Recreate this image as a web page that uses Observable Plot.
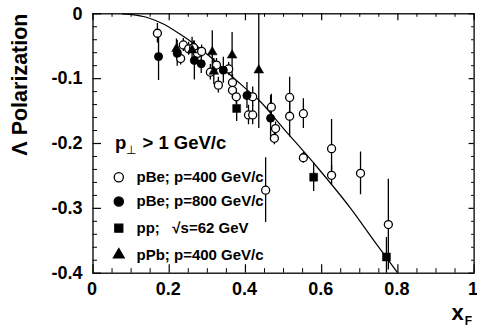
<!DOCTYPE html>
<html>
<head>
<meta charset="utf-8">
<script src="https://cdn.jsdelivr.net/npm/d3@7"></script>
<script src="https://cdn.jsdelivr.net/npm/@observablehq/plot@0.6"></script>
<style>
  body { margin: 0; background: #fff; }
  svg { display: block; }
</style>
</head>
<body>
<div id="chart"></div>
<script>
// ---- data ----
// pBe; p=400 GeV/c (open circles)
const pBe400X   = [0.169, 0.237, 0.230, 0.251, 0.264, 0.274, 0.285, 0.308, 0.324, 0.329, 0.356, 0.366, 0.366, 0.376, 0.408, 0.419, 0.419, 0.453, 0.468, 0.479, 0.476, 0.516, 0.516, 0.552, 0.552, 0.626, 0.626, 0.702, 0.775];
const pBe400Y   = [-0.030, -0.048, -0.069, -0.054, -0.052, -0.061, -0.058, -0.090, -0.079, -0.110, -0.085, -0.106, -0.118, -0.128, -0.156, -0.156, -0.128, -0.272, -0.144, -0.177, -0.192, -0.129, -0.158, -0.154, -0.222, -0.208, -0.249, -0.246, -0.325];
const pBe400Err = [0.015, 0.010, 0.010, 0.010, 0.010, 0.010, 0.010, 0.012, 0.010, 0.012, 0.010, 0.012, 0.012, 0.012, 0.015, 0.015, 0.015, 0.050, 0.020, 0.010, 0.010, 0.031, 0.032, 0.023, 0.008, 0.045, 0.015, 0.033, 0.070];
// pBe; p=800 GeV/c (filled circles)
const pBe800X   = [0.172, 0.221, 0.266, 0.284, 0.342, 0.404, 0.466];
const pBe800Y   = [-0.066, -0.061, -0.072, -0.077, -0.087, -0.126, -0.161];
const pBe800Err = [0.037, 0.020, 0.030, 0.015, 0.020, 0.020, 0.035];
// pp; sqrt(s)=62 GeV (filled squares)
const ppX   = [0.377, 0.579, 0.770];
const ppY   = [-0.146, -0.252, -0.375];
const ppErr = [0.020, 0.022, 0.030];
// pPb; p=400 GeV/c (filled triangles)
const pPbX   = [0.219, 0.260, 0.313, 0.317, 0.365, 0.435];
const pPbY   = [-0.054, -0.056, -0.059, -0.089, -0.064, -0.087];
const pPbErr = [0.015, 0.020, 0.033, 0.020, 0.035, 0.090];
// fit curve
const curveX = [0.077, 0.138, 0.182, 0.225, 0.269, 0.313, 0.356, 0.400, 0.435, 0.500, 0.589, 0.676, 0.740, 0.800];
const curveY = [0, -0.005, -0.015, -0.030, -0.048, -0.069, -0.092, -0.115, -0.133, -0.177, -0.237, -0.300, -0.352, -0.400];
// ticks
const xTicks = [0, 0.2, 0.4, 0.6, 0.8, 1];
const xTickLabels = ["0", "0.2", "0.4", "0.6", "0.8", "1"];
const xMinorTicks = [0.05,0.1,0.15,0.25,0.3,0.35,0.45,0.5,0.55,0.65,0.7,0.75,0.85,0.9,0.95];
const yTicks = [0, -0.1, -0.2, -0.3, -0.4];
const yTickLabels = ["0", "-0.1", "-0.2", "-0.3", "-0.4"];
const yMinorTicks = [-0.02,-0.04,-0.06,-0.08,-0.12,-0.14,-0.16,-0.18,-0.22,-0.24,-0.26,-0.28,-0.32,-0.34,-0.36,-0.38];
// legend
const legendLabels = ["pBe; p=400 GeV/c", "pBe; p=800 GeV/c", "pp;   \u221As=62 GeV", "pPb; p=400 GeV/c"];
const legendHeader = "1 GeV/c";

// ---- build tables ----
const toRows = (X, Y, E) => X.map((x, i) => ({x, y: Y[i], e: E[i]}));
const pBe400 = toRows(pBe400X, pBe400Y, pBe400Err);
const pBe800 = toRows(pBe800X, pBe800Y, pBe800Err);
const pp = toRows(ppX, ppY, ppErr);
const pPb = toRows(pPbX, pPbY, pPbErr);
const curve = curveX.map((x, i) => ({x, y: curveY[i]}));

const W = 477, H = 328;
const mL = 92.5, mR = 3.4, mT = 13.3, mB = 55.3;
const fw = W - mL - mR, fh = H - mT - mB;
const FONT = "'Liberation Sans', Arial, Helvetica, sans-serif";

const errBars = (rows) => Plot.ruleX(rows, {x: "x", y1: d => d.y - d.e, y2: d => d.y + d.e, stroke: "black", strokeWidth: 1.3, clip: true});

const legendSymbols = [
  {symbol: "circle", fill: "white", r: 4.6},
  {symbol: "circle", fill: "black", r: 4.6},
  {symbol: "square", fill: "black", r: 4.5},
  {symbol: "triangle", fill: "black", r: 4.0}
];
const legendDy = [163.4, 187.7, 214.4, 241];

const legendMarks = legendLabels.flatMap((lab, i) => [
  Plot.dot([lab], {frameAnchor: "top-left", dx: 25.8, dy: legendDy[i], symbol: legendSymbols[i].symbol, r: legendSymbols[i].r, fill: legendSymbols[i].fill, stroke: "black", strokeWidth: 1.3}),
  Plot.text([lab], {frameAnchor: "top-left", dx: 43.5, dy: legendDy[i], text: d => d, textAnchor: "start", lineAnchor: "middle", fontSize: 15, fontWeight: "bold", fontFamily: FONT, fill: "black"})
]);

const chart = Plot.plot({
  width: W, height: H,
  marginLeft: mL, marginRight: mR, marginTop: mT, marginBottom: mB,
  x: {domain: [0, 1], axis: null},
  y: {domain: [-0.4, 0], axis: null},
  style: {fontFamily: FONT, background: "white"},
  marks: [
    // inner ticks, bottom
    Plot.tickX(xTicks, {x: d => d, insetTop: fh - 8.5, stroke: "black", strokeWidth: 1.2}),
    Plot.tickX(xMinorTicks, {x: d => d, insetTop: fh - 4.5, stroke: "black", strokeWidth: 1}),
    // top
    Plot.tickX(xTicks, {x: d => d, insetBottom: fh - 7, stroke: "black", strokeWidth: 1.2}),
    Plot.tickX(xMinorTicks, {x: d => d, insetBottom: fh - 3.5, stroke: "black", strokeWidth: 1}),
    // left
    Plot.tickY(yTicks, {y: d => d, insetRight: fw - 8.5, stroke: "black", strokeWidth: 1.2}),
    Plot.tickY(yMinorTicks, {y: d => d, insetRight: fw - 4.5, stroke: "black", strokeWidth: 1}),
    // right
    Plot.tickY(yTicks, {y: d => d, insetLeft: fw - 5, stroke: "black", strokeWidth: 1.2}),
    Plot.tickY(yMinorTicks, {y: d => d, insetLeft: fw - 2.5, stroke: "black", strokeWidth: 1}),
    // tick labels
    Plot.text(xTicks, {x: d => d, text: (d, i) => xTickLabels[i], frameAnchor: "bottom", dx: -1, dy: 16.5, lineAnchor: "middle", fontSize: 18, fontWeight: "bold", fontFamily: FONT, fill: "black"}),
    Plot.text(yTicks, {y: d => d, text: (d, i) => yTickLabels[i], frameAnchor: "left", dx: -10.5, textAnchor: "end", lineAnchor: "middle", fontSize: 18, fontWeight: "bold", fontFamily: FONT, fill: "black"}),
    // curve
    Plot.line(curve, {x: "x", y: "y", curve: "monotone-x", stroke: "black", strokeWidth: 1.2, clip: true}),
    // error bars
    errBars(pBe400), errBars(pBe800), errBars(pp), errBars(pPb),
    // markers
    Plot.dot(pBe400, {x: "x", y: "y", r: 4, fill: "white", stroke: "black", strokeWidth: 1.3}),
    Plot.dot(pBe800, {x: "x", y: "y", r: 4, fill: "black", stroke: "black", strokeWidth: 1}),
    Plot.dot(pp, {x: "x", y: "y", symbol: "square", r: 4.5, fill: "black", stroke: "black", strokeWidth: 0.5}),
    Plot.dot(pPb, {x: "x", y: "y", symbol: "triangle", r: 3.6, fill: "black", stroke: "black", strokeWidth: 0.5}),
    ...legendMarks,
    Plot.frame({stroke: "black", strokeWidth: 1.3})
  ]
});

document.getElementById("chart").appendChild(chart);

// text labels (titles with sub-scripts)
const svg = d3.select(chart);
// y axis title
svg.append("text")
  .attr("transform", "translate(27,13.5) rotate(-90)")
  .attr("text-anchor", "end")
  .attr("font-family", FONT).attr("font-weight", "bold").attr("font-size", 21.5)
  .attr("fill", "black")
  .text("\u039B Polarization");
// x axis title x_F
const xt = svg.append("text")
  .attr("x", 451.5).attr("y", 320)
  .attr("text-anchor", "start")
  .attr("font-family", FONT).attr("font-weight", "bold").attr("font-size", 22)
  .attr("fill", "black");
xt.append("tspan").text("x");
xt.append("tspan").attr("font-size", 12).attr("dy", 5).attr("dx", 1).text("F");
// legend header p_perp > 1 GeV/c
const lh = svg.append("text")
  .attr("x", 115).attr("y", 149)
  .attr("text-anchor", "start")
  .attr("font-family", FONT).attr("font-weight", "bold").attr("font-size", 18.5)
  .attr("fill", "black");
lh.append("tspan").text("p");
lh.append("tspan").attr("font-size", 12).attr("font-weight", "normal").attr("dy", 5).text("\u22A5");
lh.append("tspan").attr("dy", -5).attr("dx", 1).style("white-space", "pre").text(" > " + legendHeader);
svg.selectAll("text").style("white-space", "pre");
</script>
</body>
</html>
